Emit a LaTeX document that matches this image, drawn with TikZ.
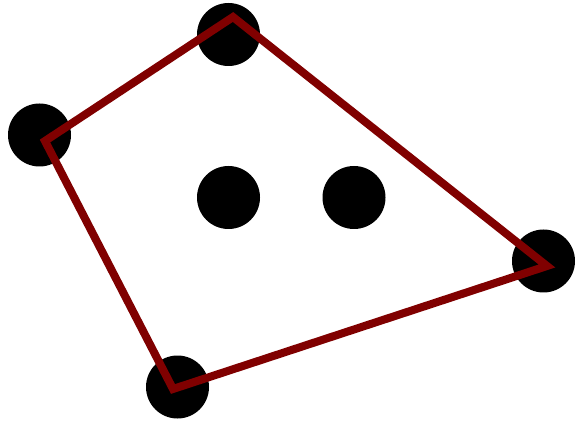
\documentclass[tikz,border=0pt]{standalone}
\usepackage{xcolor}
\definecolor{hullred}{RGB}{128,0,0}
\begin{document}
\begin{tikzpicture}[
    x=1pt, y=-1pt,
    dot/.style={circle, fill=black, inner sep=0pt, minimum size=63pt},
    hull/.style={draw=hullred, line width=8pt, line join=miter},
]
\useasboundingbox (0,0) rectangle (576,422);

% Points
\node[dot] (top) at (228.5, 34.5) {};
\node[dot] (left) at (39.5, 135) {};
\node[dot] (mida) at (228.5, 197.5) {};
\node[dot] (midb) at (354, 197.5) {};
\node[dot] (right) at (543.5, 261) {};
\node[dot] (bottom) at (177.5, 387) {};

% Hull corners
\coordinate (h1) at (233, 17);
\coordinate (h2) at (45, 141);
\coordinate (h3) at (173, 389);
\coordinate (h4) at (547, 266);

% Convex hull
\draw[hull] (h1) -- (h2) -- (h3) -- (h4) -- cycle;

\end{tikzpicture}
\end{document}
